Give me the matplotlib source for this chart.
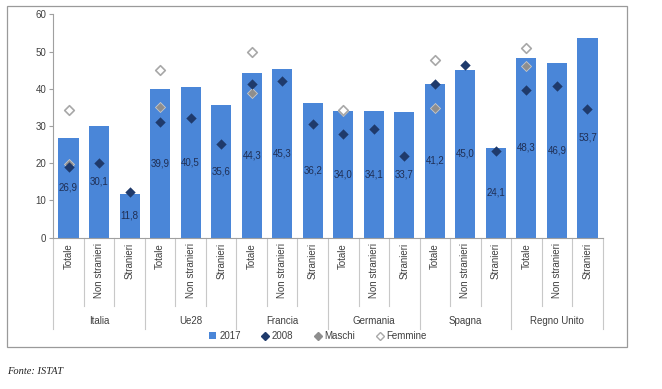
import matplotlib
matplotlib.use("Agg")
import matplotlib.pyplot as plt
import matplotlib.transforms as mtransforms
from matplotlib.lines import Line2D
from matplotlib.patches import Patch, Rectangle
import numpy as np

plt.rcParams['font.family'] = ['Liberation Sans Narrow', 'Liberation Sans', 'DejaVu Sans']

groups = ["Italia", "Ue28", "Francia", "Germania", "Spagna", "Regno Unito"]
subcats = ["Totale", "Non stranieri", "Stranieri"]

val_2017 = [26.9, 30.1, 11.8, 39.9, 40.5, 35.6, 44.3, 45.3, 36.2,
            34.0, 34.1, 33.7, 41.2, 45.0, 24.1, 48.3, 46.9, 53.7]
val_2008 = [19.0, 20.1, 12.4, 31.0, 32.1, 25.2, 41.2, 42.1, 30.5,
            27.9, 29.1, 21.9, 41.4, 46.3, 23.4, 39.7, 40.7, 34.5]
# Maschi / Femmine only for "Totale" of each group
maschi = [19.8, 35.1, 38.8, 34.0, 34.9, 46.0]
femmine = [34.3, 45.0, 49.8, 34.4, 47.6, 51.0]

yticks = [0, 10, 20, 30, 40, 50, 60]

bar_color = "#4A86D8"
c2008 = "#1F3A6B"
cmaschi = "#8E8E8E"
cfemm_edge = "#A8A8A8"
text_dark = "#404040"

fig = plt.figure(figsize=(6.62, 3.89), dpi=100)
W, H = 662, 389
ax = fig.add_axes([53.3 / W, 1 - 237.7 / H, (602.7 - 53.3) / W, (237.7 - 14.3) / H])

n = len(val_2017)
x = np.arange(n)
ax.bar(x, val_2017, width=0.66, color=bar_color, zorder=2)
for xi, v in zip(x, val_2017):
    ax.text(xi, v / 2, f"{v:.1f}".replace(".", ","), ha="center", va="center",
            fontsize=7, color="#1F2F55", zorder=5)

ax.scatter(x, val_2008, marker="D", s=28, color=c2008, zorder=4, linewidths=0)
tot_idx = np.arange(0, n, 3)
ax.scatter(tot_idx, maschi, marker="D", s=26, color=cmaschi, edgecolors="#C8C8C8",
           linewidths=0.6, zorder=3)
ax.scatter(tot_idx, femmine, marker="D", s=24, facecolors="white", edgecolors=cfemm_edge,
           linewidths=1.2, zorder=3)

ax.set_xlim(-0.5, n - 0.5)
ax.set_ylim(0, 60)
ax.set_yticks(yticks)
ax.set_yticklabels([str(t) for t in yticks], fontsize=7, color=text_dark)
ax.tick_params(axis="y", length=3, color="#A0A0A0", pad=2)
ax.set_xticks([])
for s in ["top", "right"]:
    ax.spines[s].set_visible(False)
ax.spines["left"].set_color("#A0A0A0")
ax.spines["bottom"].set_color("#A0A0A0")
ax.spines["left"].set_linewidth(0.8)
ax.spines["bottom"].set_linewidth(0.8)

# category labels & separators
trans = mtransforms.blended_transform_factory(ax.transData, ax.transAxes)
ax_h_px = 237.7 - 14.3
def ay(py):
    return (237.7 - py) / ax_h_px

for i in range(n):
    ax.text(x[i], ay(243), subcats[i % 3], rotation=90, ha="center", va="top",
            fontsize=7, color=text_dark, transform=trans)
for b in range(n + 1):
    xb = b - 0.5
    long = (b % 3 == 0)
    y_end = ay(329) if long else ay(306)
    ax.add_line(Line2D([xb, xb], [0, y_end], transform=trans, color="#C8C8C8",
                       linewidth=0.8, clip_on=False))
for g, name in enumerate(groups):
    ax.text(3 * g + 1, ay(321), name, ha="center", va="center", fontsize=7,
            color=text_dark, transform=trans)

# legend
handles = [
    Patch(facecolor=bar_color, edgecolor="none", label="2017"),
    Line2D([], [], marker="D", linestyle="none", color=c2008, markersize=4, label="2008"),
    Line2D([], [], marker="D", linestyle="none", color=cmaschi, markersize=4, label="Maschi"),
    Line2D([], [], marker="D", linestyle="none", markerfacecolor="white",
           markeredgecolor=cfemm_edge, markersize=4, label="Femmine"),
]
leg = fig.legend(handles=handles, loc="center", bbox_to_anchor=(318 / W, 1 - 336 / H),
                 ncol=4, frameon=False, fontsize=7, handlelength=0.7, handletextpad=0.3,
                 columnspacing=2.2, labelcolor=text_dark)

# outer frame
fig.patches.append(Rectangle((7 / W, 1 - 347 / H), (627 - 7) / W, (347 - 6) / H,
                             transform=fig.transFigure, fill=False, edgecolor="#9A9A9A",
                             linewidth=0.9))

fig.text(7 / W, 1 - 372 / H, "Fonte: ISTAT", fontsize=7.5, style="italic",
         family=["Liberation Serif", "DejaVu Serif"], color="#222222", va="center", ha="left")

fig.savefig("out.png", dpi=100)
